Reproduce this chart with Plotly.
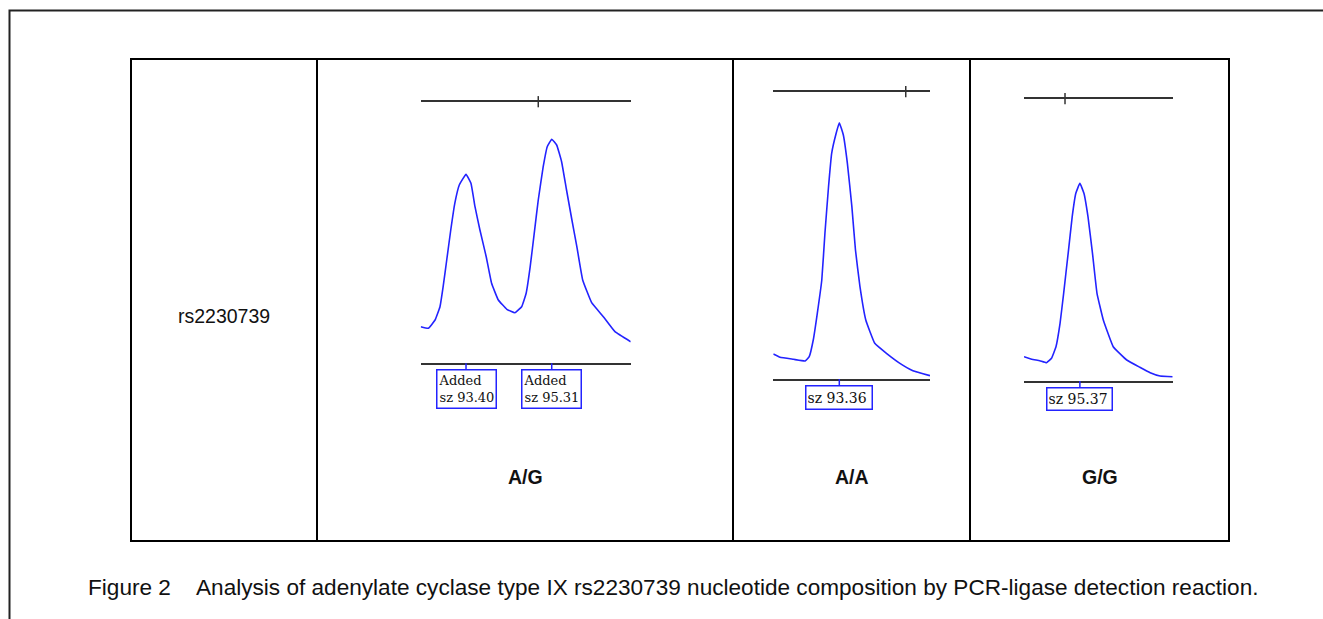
import plotly.graph_objects as go

W, H = 1323, 619

# ---------------- data (fragment size in bp, signal in RFU) ----------------
ag_size = [92.39, 92.56, 92.71, 92.82, 92.89, 92.97, 93.06, 93.15, 93.25, 93.40,
           93.51, 93.60, 93.71, 93.85, 93.97, 94.12, 94.31, 94.49, 94.64, 94.74,
           94.83, 94.92, 95.01, 95.12, 95.21, 95.31, 95.42, 95.53, 95.64, 95.76,
           95.87, 96.00, 96.20, 96.46, 96.72, 97.07]
ag_rfu = [366, 350, 433, 566, 766, 1033, 1333, 1600, 1783, 1890,
          1800, 1566, 1333, 1066, 800, 633, 540, 506, 566, 700,
          966, 1300, 1633, 1966, 2166, 2240, 2183, 2016, 1733, 1433,
          1166, 833, 606, 466, 316, 216]

aa_size = [91.89, 92.04, 92.34, 92.60, 92.69, 92.78, 92.87, 92.97, 93.04, 93.12,
           93.19, 93.29, 93.36, 93.45, 93.54, 93.64, 93.72, 93.82, 93.95, 94.15,
           94.41, 94.71, 95.00, 95.38]
aa_rfu = [250, 217, 197, 180, 223, 390, 657, 990, 1457, 1923,
          2257, 2457, 2563, 2440, 2157, 1723, 1290, 923, 590, 357,
          257, 157, 83, 33]

gg_size = [94.13, 94.30, 94.48, 94.63, 94.74, 94.84, 94.93, 95.01, 95.11, 95.20,
           95.28, 95.37, 95.46, 95.55, 95.65, 95.75, 95.89, 96.11, 96.41, 96.70,
           96.93, 97.15, 97.43]
gg_rfu = [243, 217, 203, 183, 227, 343, 577, 877, 1277, 1643,
          1877, 1977, 1877, 1643, 1277, 877, 610, 343, 210, 137,
          83, 50, 43]

# view windows
ag_xrange, ag_ymax = [92.39, 97.07], 2616
aa_xrange, aa_ymax = [91.89, 95.38], 2873
gg_xrange, gg_ymax = [94.13, 97.43], 2823

# top ruler tick positions
ag_ruler = 95.01
aa_ruler = 94.84
gg_ruler = 95.04

# peak calls
ag_peaks = [93.40, 95.31]
ag_labels = ["Added<br>sz 93.40", "Added<br>sz 95.31"]
aa_peaks = [93.36]
aa_labels = ["sz 93.36"]
gg_peaks = [95.37]
gg_labels = ["sz 95.37"]

genotypes = ["A/G", "A/A", "G/G"]
snp_name = "rs2230739"
caption = ("Figure 2\u00a0\u00a0\u00a0\u00a0Analysis of adenylate cyclase type IX rs2230739 "
           "nucleotide composition by PCR-ligase detection reaction.")

# ---------------- layout helpers ----------------
def px(x):
    return x / W


def py(y):
    return 1 - y / H


TRACE_COLOR = "#2323ff"
AXIS_COLOR = "#333333"
SANS = "Liberation Sans, Arial, sans-serif"
SERIF = "DejaVu Serif, Liberation Serif, serif"

panels = [
    # (xaxis, yaxis, sizes, rfu, xrange, ymax, ruler, peaks, labels, xdom px, ydom px, font, box w, box h)
    ("x", "y", ag_size, ag_rfu, ag_xrange, ag_ymax, ag_ruler, ag_peaks, ag_labels,
     (420.7, 630.7), (363.3, 101.7), 13, 56, 35),
    ("x2", "y2", aa_size, aa_rfu, aa_xrange, aa_ymax, aa_ruler, aa_peaks, aa_labels,
     (773.3, 930.0), (379.0, 91.7), 14, 63, 20),
    ("x3", "y3", gg_size, gg_rfu, gg_xrange, gg_ymax, gg_ruler, gg_peaks, gg_labels,
     (1024.0, 1172.7), (381.0, 98.7), 14, 62, 19),
]

fig = go.Figure()
layout_axes = {}
annotations = []

for i, (xa, ya, xs, ys, xr, ymax, ruler, peaks, labels, xd, yd, fs, bw, bh) in enumerate(panels):
    fig.add_trace(go.Scatter(
        x=xs, y=ys, xaxis=xa, yaxis=ya, mode="lines",
        line=dict(color=TRACE_COLOR, width=1.6, shape="spline", smoothing=0.3),
        hoverinfo="skip", showlegend=False,
    ))
    # ruler tick on the top line
    fig.add_trace(go.Scatter(
        x=[ruler], y=[ymax], xaxis=xa, yaxis=ya, mode="markers",
        marker=dict(symbol="line-ns", size=8, line=dict(color=AXIS_COLOR, width=1.5)),
        cliponaxis=False, hoverinfo="skip", showlegend=False,
    ))
    suffix = "" if i == 0 else str(i + 1)
    layout_axes["xaxis" + suffix] = dict(
        domain=[px(xd[0]), px(xd[1])], range=xr, anchor=ya,
        showline=True, mirror=True, linecolor=AXIS_COLOR, linewidth=2,
        showgrid=False, zeroline=False, showticklabels=False, ticks="",
        fixedrange=True,
    )
    layout_axes["yaxis" + suffix] = dict(
        domain=[py(yd[0]), py(yd[1])], range=[0, ymax], anchor=xa,
        showline=False, showgrid=False, zeroline=False, showticklabels=False,
        ticks="", fixedrange=True,
    )
    for pk, lab in zip(peaks, labels):
        annotations.append(dict(
            x=pk, y=0, xref=xa, yref=ya, text=lab,
            showarrow=True, ax=0, ay=6 + (bh + 4) / 2, arrowhead=0,
            arrowwidth=1.5, arrowcolor=TRACE_COLOR, standoff=0,
            bordercolor=TRACE_COLOR, borderwidth=1.5, borderpad=1,
            bgcolor="white", width=bw, height=bh, align="left",
            font=dict(family=SERIF, size=fs, color="#111111"),
        ))

# text labels
annotations.append(dict(x=px(223.5), y=py(316), xref="paper", yref="paper",
                        xanchor="center", yanchor="middle",
                        text=snp_name, showarrow=False,
                        font=dict(family=SANS, size=19.5, color="#111111")))
for cx, g in zip([525, 851.5, 1099.5], genotypes):
    annotations.append(dict(x=px(cx), y=py(477), xref="paper", yref="paper",
                            xanchor="center", yanchor="middle",
                            text="<b>" + g + "</b>", showarrow=False,
                            font=dict(family=SANS, size=19.5, color="#111111")))
annotations.append(dict(x=px(86), y=py(587), xref="paper", yref="paper",
                        xanchor="left", yanchor="middle", text=caption, showarrow=False,
                        font=dict(family=SANS, size=22.6, color="#111111")))

# frame and table lines
shapes = [
    dict(type="path", xref="paper", yref="paper",
         path=f"M {px(9.5)} {py(H + 5)} L {px(9.5)} {py(10.5)} L {px(W + 5)} {py(10.5)}",
         line=dict(color="#222222", width=2)),
    dict(type="rect", xref="paper", yref="paper",
         x0=px(131), x1=px(1229), y0=py(541), y1=py(59),
         line=dict(color="black", width=2)),
]
for vx in [317, 733, 970]:
    shapes.append(dict(type="line", xref="paper", yref="paper",
                       x0=px(vx), x1=px(vx), y0=py(541), y1=py(59),
                       line=dict(color="black", width=2)))

fig.update_layout(
    width=W, height=H, autosize=False,
    margin=dict(l=0, r=0, t=0, b=0),
    paper_bgcolor="white", plot_bgcolor="rgba(0,0,0,0)",
    showlegend=False, hovermode=False,
    annotations=annotations, shapes=shapes,
    **layout_axes,
)

fig.write_html(
    "out.html",
    config={"displayModeBar": False, "staticPlot": True},
    post_script="document.body.style.margin='0';document.body.style.overflow='hidden';",
)
